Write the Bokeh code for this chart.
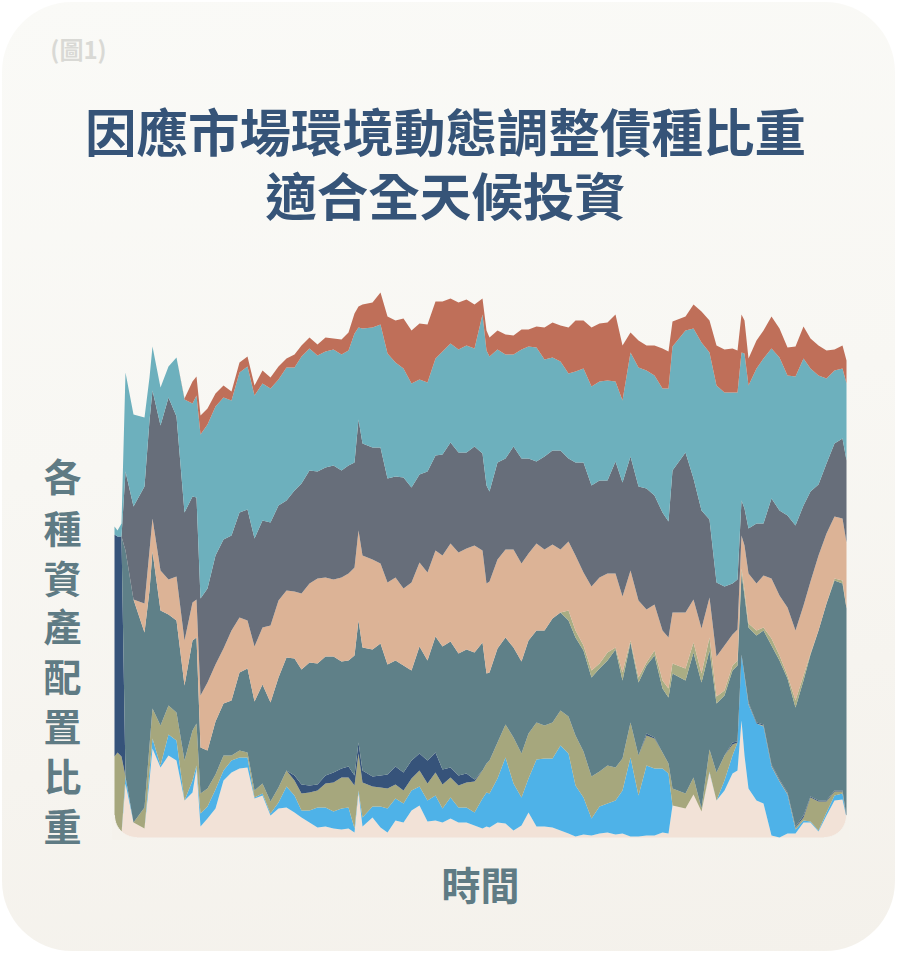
import numpy as np
from bokeh.core.properties import value
from bokeh.embed import file_html
from bokeh.models import ColumnDataSource, Range1d
from bokeh.plotting import figure
from bokeh.resources import INLINE

TITLE_LINES = ["因應市場環境動態調整債種比重", "適合全天候投資"]
FIG_TAG = "(圖1)"
X_LABEL = "時間"
Y_LABEL = list("各種資產配置比重")

time_axis = [
    0, 3, 7, 11, 19, 30, 35, 38, 46, 54,
    62, 70, 78, 82, 86, 93, 101, 109, 117, 125,
    133, 140, 148, 156, 164, 172, 180, 187, 195, 203,
    211, 219, 227, 234, 240, 244, 248, 258, 266, 273,
    281, 289, 297, 305, 313, 321, 328, 336, 344, 352,
    360, 368, 372, 375, 383, 391, 399, 407, 414, 422,
    430, 438, 446, 454, 461, 469, 477, 485, 493, 501,
    508, 516, 524, 532, 540, 548, 554, 558, 571, 579,
    587, 595, 602, 610, 618, 623, 627, 630, 634, 642,
    649, 657, 665, 673, 681, 689, 696, 704, 712, 720,
    728, 732,
]
cream = [
    0, 1, 4, 54, 15, 9, 57, 89, 70, 82,
    77, 37, 45, 69, 11, 19, 29, 57, 65, 69,
    70, 39, 42, 22, 29, 30, 25, 20, 15, 10,
    11, 9, 8, 9, 5, 45, 11, 20, 10, 5,
    17, 15, 27, 32, 16, 17, 15, 19, 15, 15,
    12, 9, 11, 10, 15, 14, 7, 12, 25, 11,
    11, 10, 7, 4, 1, 3, 2, 4, 5, 3,
    4, 1, 1, 2, 2, 5, 4, 32, 29, 43,
    26, 65, 37, 47, 64, 67, 117, 82, 49, 37,
    34, 2, 0, 4, 4, 15, 15, 6, 22, 37,
    38, 20,
]
sky = [
    0, 0, 0, 7, 0, 0, 10, 10, 2, 21,
    20, 0, 12, 3, 13, 12, 19, 10, 12, 11,
    10, 1, 2, 2, 6, 21, 17, 7, 12, 20,
    19, 17, 21, 21, 4, 2, 9, 11, 21, 24,
    22, 19, 20, 19, 21, 25, 14, 21, 15, 15,
    13, 30, 34, 34, 44, 66, 47, 28, 34, 67,
    68, 69, 85, 80, 51, 37, 17, 27, 29, 34,
    43, 79, 41, 70, 67, 64, 60, 0, 0, 0,
    0, 1, 0, 10, 18, 28, 65, 79, 84, 77,
    77, 69, 56, 39, 4, 2, 1, 1, 3, 5,
    6, 0,
]
olive = [
    81, 84, 77, 0, 0, 21, 25, 30, 40, 29,
    28, 40, 50, 42, 20, 18, 15, 15, 5, 7,
    5, 7, 10, 12, 15, 16, 15, 17, 18, 17,
    24, 29, 31, 30, 43, 37, 35, 20, 19, 20,
    14, 13, 12, 16, 17, 23, 24, 20, 22, 25,
    31, 28, 29, 33, 36, 33, 46, 44, 45, 37,
    33, 36, 35, 37, 50, 46, 42, 35, 38, 33,
    32, 35, 40, 30, 30, 16, 10, 17, 15, 17,
    3, 22, 28, 25, 11, 0, 0, 1, 1, 0,
    1, 1, 1, 1, 2, 3, 24, 29, 11, 4,
    2, 0,
]
navy = [
    222, 216, 220, 0, 0, 0, 0, 0, 0, 0,
    0, 0, 0, 0, 0, 0, 0, 0, 0, 0,
    0, 0, 0, 0, 0, 0, 5, 9, 7, 6,
    8, 10, 9, 11, 10, 11, 12, 10, 12, 14,
    18, 18, 18, 17, 23, 20, 15, 10, 10, 9,
    2, 0, 0, 0, 0, 0, 0, 0, 0, 0,
    0, 0, 0, 0, 0, 0, 0, 0, 0, 0,
    0, 0, 0, 2, 1, 0, 0, 0, 0, 0,
    0, 0, 0, 0, 2, 1, 1, 1, 1, 1,
    1, 1, 1, 1, 1, 2, 1, 1, 1, 1,
    1, 1,
]
steel = [
    0, 0, 0, 226, 223, 175, 155, 157, 115, 91,
    92, 75, 90, 86, 46, 38, 53, 52, 55, 78,
    84, 89, 99, 99, 110, 113, 117, 115, 123, 121,
    119, 116, 107, 106, 120, 122, 123, 127, 132, 110,
    106, 107, 90, 107, 100, 116, 123, 126, 122, 124,
    127, 128, 90, 88, 94, 87, 90, 92, 93, 92,
    95, 104, 98, 96, 98, 101, 99, 103, 105, 118,
    78, 80, 73, 68, 82, 64, 66, 115, 113, 125,
    126, 99, 69, 60, 72, 76, 81, 79, 75, 87,
    94, 119, 119, 114, 119, 135, 142, 170, 197, 210,
    207, 208,
]
sage = [
    0, 0, 0, 0, 0, 0, 0, 0, 0, 0,
    0, 0, 0, 0, 0, 0, 0, 0, 0, 0,
    0, 0, 0, 0, 0, 0, 0, 0, 0, 0,
    0, 0, 0, 0, 0, 0, 0, 0, 0, 0,
    0, 0, 0, 0, 0, 0, 0, 0, 0, 0,
    0, 0, 0, 0, 0, 0, 0, 0, 0, 0,
    0, 0, 0, 10, 7, 5, 7, 5, 8, 2,
    8, 2, 5, 3, 5, 8, 9, 10, 12, 10,
    9, 13, 7, 5, 5, 5, 5, 5, 4, 5,
    3, 7, 5, 3, 7, 5, 1, 0, 0, 2,
    3, 0,
]
peach = [
    0, 0, 0, 0, 0, 29, 40, 33, 40, 35,
    44, 45, 38, 38, 52, 68, 57, 55, 70, 55,
    48, 55, 57, 77, 77, 67, 67, 76, 79, 85,
    79, 77, 84, 87, 88, 90, 92, 90, 80, 82,
    83, 77, 88, 84, 88, 86, 91, 98, 101, 101,
    107, 92, 90, 91, 89, 88, 98, 98, 87, 87,
    81, 74, 63, 69, 75, 73, 84, 86, 79, 74,
    76, 70, 77, 53, 46, 50, 51, 51, 56, 43,
    45, 40, 40, 45, 31, 31, 33, 45, 50, 47,
    52, 60, 60, 68, 70, 70, 72, 75, 70, 62,
    62, 66,
]
slate = [
    0, 0, 0, 79, 93, 117, 130, 128, 145, 182,
    160, 128, 106, 102, 97, 94, 109, 109, 95, 105,
    111, 108, 107, 103, 95, 90, 101, 110, 113, 107,
    110, 114, 107, 108, 105, 111, 112, 112, 116, 104,
    101, 111, 95, 88, 101, 95, 101, 101, 100, 96,
    99, 97, 98, 90, 97, 91, 103, 105, 95, 82,
    93, 94, 99, 83, 93, 110, 101, 97, 93, 112,
    114, 114, 114, 121, 109, 118, 116, 142, 160, 121,
    118, 78, 74, 59, 51, 50, 35, 37, 45, 60,
    52, 80, 85, 92, 105, 100, 90, 71, 70, 73,
    80, 82,
]
teal = [
    8, 6, 13, 99, 92, 69, 43, 44, 38, 31,
    59, 113, 93, 102, 164, 164, 149, 142, 135, 140,
    143, 143, 137, 134, 126, 133, 123, 127, 122, 116,
    116, 116, 116, 115, 129, 92, 115, 120, 123, 125,
    114, 109, 104, 95, 89, 97, 103, 99, 103, 107,
    98, 139, 135, 135, 113, 104, 92, 109, 112, 114,
    97, 93, 89, 85, 91, 94, 99, 99, 100, 80,
    82, 104, 119, 118, 120, 124, 133, 124, 122, 150,
    168, 167, 197, 194, 191, 187, 148, 155, 143, 155,
    165, 150, 153, 140, 149, 147, 123, 109, 85, 73,
    70, 77,
]
rust = [
    0, 0, 0, 0, 0, 0, 0, 0, 0, 0,
    0, 1, 22, 19, 19, 16, 13, 12, 9, 10,
    10, 10, 13, 11, 13, 9, 13, 11, 11, 11,
    14, 11, 15, 18, 20, 21, 24, 25, 32, 37,
    42, 50, 53, 56, 58, 57, 50, 45, 47, 46,
    44, 16, 20, 19, 19, 20, 19, 20, 17, 21,
    32, 35, 36, 46, 51, 48, 59, 58, 58, 67,
    55, 20, 27, 25, 30, 40, 37, 25, 14, 24,
    31, 32, 40, 43, 44, 42, 38, 33, 27, 28,
    28, 32, 29, 28, 30, 32, 30, 30, 28, 21,
    23, 23,
]

series = {
    "cream": cream, "sky": sky, "olive": olive, "navy": navy, "steel": steel,
    "sage": sage, "peach": peach, "slate": slate, "teal": teal, "rust": rust,
}
series_colors = ["#f2e2d7", "#4eb2e8", "#a6a77d", "#36537a", "#5f8088",
                 "#a9ad84", "#dcb396", "#676e7a", "#6db0bd", "#bf6f59"]

CARD_W, CARD_H = 893, 949
# plot scale: one value unit equals one pixel; baseline sits 835 units below the card top
X0, Y0 = 112, 835

p = figure(
    width=CARD_W, height=CARD_H, output_backend="svg", toolbar_location=None,
    x_range=Range1d(-X0, CARD_W - X0), y_range=Range1d(Y0 - CARD_H, Y0),
    min_border=0, background_fill_color=None, border_fill_color=None,
    outline_line_color=None,
)
p.axis.visible = False
p.grid.visible = False
p.styles = {
    "position": "absolute", "left": "2px", "top": "2px",
    "border-radius": "70px",
    "background": "linear-gradient(172deg, #fafaf7 0%, #f8f7f3 45%, #f4f1eb 100%)",
}

source = ColumnDataSource({"x": time_axis, **series})
p.varea_stack(stackers=list(series), x="x", color=series_colors, source=source)

# rounded lower corners of the plot panel
R = 22
MASK = "#f5f2ec"
a = np.linspace(0, np.pi / 2, 16)
x_end = time_axis[-1]
arc_x = R - R * np.sin(a)
arc_y = R - R * np.cos(a)
p.patch(list(arc_x) + [-2, -2, R], list(arc_y) + [R, -2, -2], color=MASK)
p.patch(list(x_end - arc_x) + [x_end + 2, x_end + 2, x_end - R],
        list(arc_y) + [R, -2, -2], color=MASK)

CJK = value("Noto Sans CJK TC")
p.text(x=[331, 331], y=[708, 644], text=TITLE_LINES, text_font=CJK,
       text_font_size="51.5px", text_font_style="bold", text_color="#365478",
       text_align="center", text_baseline="middle")
p.text(x=[-36], y=[789], text=[FIG_TAG], text_font=CJK, text_font_size="24px",
       text_font_style="bold", text_color="#d9d9d5", text_align="center",
       text_baseline="middle")
p.text(x=[366], y=[-45], text=[X_LABEL], text_font=CJK, text_font_size="39px",
       text_font_style="bold", text_color="#5f7b84", text_align="center",
       text_baseline="middle")
p.text(x=[-52] * len(Y_LABEL), y=[363, 311, 261, 213, 163, 113, 63, 13],
       text=Y_LABEL, text_font=CJK, text_font_size="38px", text_font_style="bold",
       text_color="#5f7b84", text_align="center", text_baseline="middle")

open("out.html", "w").write(file_html(p, INLINE))
